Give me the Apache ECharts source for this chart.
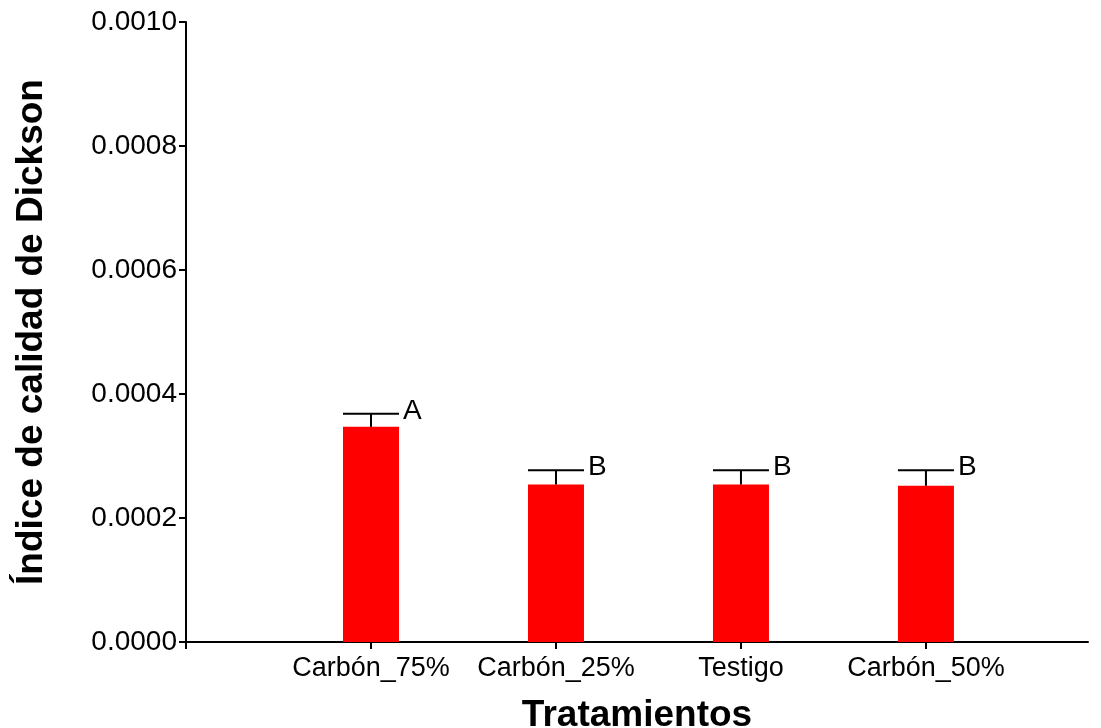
<!DOCTYPE html>
<html>
<head>
<meta charset="utf-8">
<script src="https://cdn.jsdelivr.net/npm/echarts@6/dist/echarts.min.js"></script>
<style>
html,body{margin:0;padding:0;background:#fff;}
#chart{width:1101px;height:728px;}
</style>
</head>
<body>
<div id="chart"></div>
<script>
var categories = ['Carbón_75%', 'Carbón_25%', 'Testigo', 'Carbón_50%'];
var means = [0.000347, 0.000254, 0.000254, 0.000252];
var errors = [0.000021, 0.000023, 0.000023, 0.000025];
var letters = ['A', 'B', 'B', 'B'];
var yTicks = [0, 0.0002, 0.0004, 0.0006, 0.0008, 0.0010];

var FONT = "'Liberation Sans', Arial, sans-serif";
var barData = means.map(function (m, i) { return [i + 1, m]; });
var errData = means.map(function (m, i) { return [i + 1, m, errors[i], letters[i]]; });

var chart = echarts.init(document.getElementById('chart'));
chart.setOption({
  backgroundColor: '#fff',
  animation: false,
  grid: { left: 186, right: 13, top: 22, bottom: 86, containLabel: false, outerBoundsMode: 'none' },
  xAxis: {
    type: 'value', min: 0, max: 4.876,
    name: 'Tratamientos', nameLocation: 'middle', nameGap: 55,
    nameTextStyle: { fontFamily: FONT, fontSize: 37, fontWeight: 'bold', color: '#000' },
    axisLine: { show: true, lineStyle: { color: '#000', width: 2 } },
    axisTick: { show: true, length: 7, lineStyle: { color: '#000', width: 2 }, customValues: [0, 1, 2, 3, 4] },
    axisLabel: {
      customValues: [1, 2, 3, 4], margin: 13,
      fontFamily: FONT, fontSize: 27, color: '#000',
      formatter: function (v) { var k = Math.round(v) - 1; return categories[k] || ''; }
    },
    splitLine: { show: false }
  },
  yAxis: {
    type: 'value', min: 0, max: 0.001, interval: 0.0002,
    name: 'Índice de calidad de Dickson', nameLocation: 'middle', nameGap: 136,
    nameTextStyle: { fontFamily: FONT, fontSize: 37, fontWeight: 'bold', color: '#000' },
    axisLine: { show: true, lineStyle: { color: '#000', width: 2 } },
    axisTick: { show: true, length: 7, lineStyle: { color: '#000', width: 2 } },
    axisLabel: {
      margin: 9, fontFamily: FONT, fontSize: 28, color: '#000',
      customValues: yTicks,
      formatter: function (v) { return v.toFixed(4); }
    },
    splitLine: { show: false }
  },
  series: [
    {
      type: 'bar', data: barData, barWidth: 56,
      itemStyle: { color: '#ff0000' }, z: 2
    },
    {
      type: 'custom', data: errData, z: 3,
      renderItem: function (params, api) {
        var x = api.value(0), m = api.value(1), e = api.value(2);
        var p0 = api.coord([x, m]);
        var p1 = api.coord([x, m + e]);
        var hw = 28;
        var st = { stroke: '#000', lineWidth: 2 };
        return {
          type: 'group',
          children: [
            { type: 'line', shape: { x1: p0[0], y1: p0[1], x2: p1[0], y2: p1[1] }, style: st },
            { type: 'line', shape: { x1: p1[0] - hw, y1: p1[1], x2: p1[0] + hw, y2: p1[1] }, style: st },
            { type: 'text', style: { x: p1[0] + hw + 4, y: p1[1] - 3, text: letters[params.dataIndex],
              fontFamily: FONT, fontSize: 28, fill: '#000', align: 'left', verticalAlign: 'middle' } }
          ]
        };
      }
    }
  ]
});
</script>
</body>
</html>
